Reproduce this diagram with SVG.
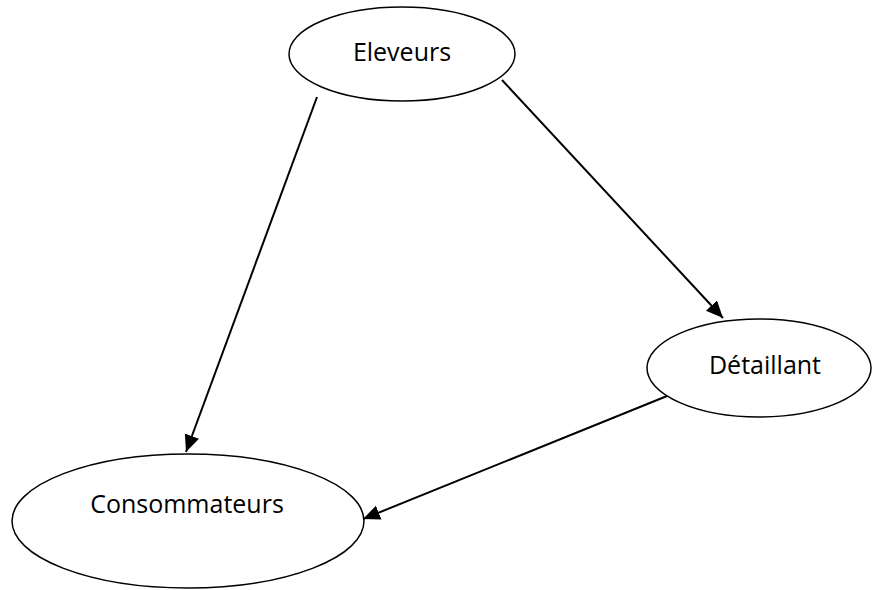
<svg xmlns="http://www.w3.org/2000/svg" width="872" height="590" viewBox="0 0 872 590">
<defs>
<style>
.node ellipse{fill:#fff;stroke:#000;stroke-width:1.5}
.node text{font-family:"Open Sans","Noto Sans","Liberation Sans",sans-serif;font-size:25px;fill:#000;text-anchor:middle}
.edge{stroke:#000;stroke-width:2;fill:none;marker-end:url(#arr)}
</style>
<marker id="arr" markerUnits="userSpaceOnUse" markerWidth="20" markerHeight="16" refX="17" refY="7.5" orient="auto">
<path d="M0,0 L17,7.5 L0,15 Z" fill="#000"/>
</marker>
</defs>
<g id="connectors">
<line class="edge" x1="317" y1="97" x2="186" y2="452"/>
<line class="edge" x1="502" y1="80" x2="723" y2="318"/>
<line class="edge" x1="672" y1="394" x2="363" y2="519"/>
</g>
<g id="eleveurs" class="node">
<ellipse cx="402" cy="54" rx="113" ry="47"/>
<text x="402" y="61">Eleveurs</text>
</g>
<g id="detaillant" class="node">
<ellipse cx="759" cy="368" rx="112" ry="49"/>
<text x="765" y="374">Détaillant</text>
</g>
<g id="consommateurs" class="node">
<ellipse cx="188" cy="521" rx="176" ry="67"/>
<text x="187" y="513">Consommateurs</text>
</g>
</svg>
